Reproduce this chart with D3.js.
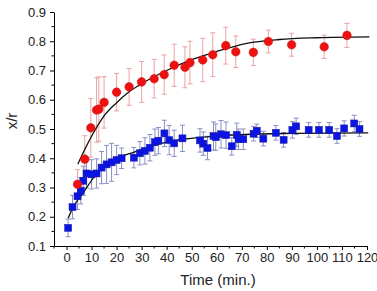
<!DOCTYPE html>
<html>
<head>
<meta charset="utf-8">
<script src="https://cdn.jsdelivr.net/npm/d3@7"></script>
<style>
  body { margin: 0; background: #fff; }
  svg { display: block; font-family: "Liberation Sans", Arial, sans-serif; }
</style>
</head>
<body>
<div id="chart"></div>
<script>
// red series (circles)
const redT = [4.4, 7.3, 9.7, 12, 12.9, 15, 20, 25, 30, 35, 39, 43, 47.3, 49.3, 54.4, 58.4, 63.6, 67.6, 74.6, 80.6, 89.9, 102.9, 112];
const redY = [0.311, 0.397, 0.504, 0.565, 0.568, 0.591, 0.626, 0.644, 0.661, 0.672, 0.686, 0.718, 0.711, 0.727, 0.736, 0.754, 0.785, 0.764, 0.762, 0.799, 0.788, 0.781, 0.820];
const redErr = [0.05, 0.08, 0.10, 0.11, 0.11, 0.088, 0.064, 0.063, 0.07, 0.066, 0.067, 0.072, 0.07, 0.073, 0.074, 0.075, 0.063, 0.054, 0.045, 0.039, 0.039, 0.04, 0.041];

// blue series (squares)
const blueT = [0.65, 2.4, 4.4, 5.7, 6.7, 8, 10, 12, 14, 16, 18, 20, 22, 26.9, 29.3, 31.3, 33.3, 35.3, 36.7, 39.1,
  41, 43, 46.3, 53.3, 54.6, 56.3, 58.7, 59.6, 61.7, 63.7, 66, 68, 68.7, 70.6, 74.7, 76, 78.6, 83.6, 86.7, 90.2,
  91.7, 96.7, 100.8, 104.9, 108, 110.9, 114.9, 117];
const blueY = [0.162, 0.233, 0.27, 0.289, 0.323, 0.348, 0.345, 0.348, 0.368, 0.379, 0.386, 0.394, 0.4, 0.402, 0.417, 0.425, 0.436, 0.455, 0.46, 0.485,
  0.462, 0.451, 0.468, 0.461, 0.45, 0.435, 0.476, 0.472, 0.482, 0.479, 0.441, 0.48, 0.465, 0.465, 0.484, 0.494, 0.467, 0.487, 0.463, 0.497,
  0.509, 0.497, 0.497, 0.497, 0.476, 0.502, 0.519, 0.5];
const blueErr = [0.03, 0.04, 0.045, 0.045, 0.05, 0.05, 0.05, 0.05, 0.055, 0.065, 0.065, 0.05, 0.035, 0.035, 0.04, 0.045, 0.045, 0.045, 0.045, 0.045,
  0.05, 0.045, 0.045, 0.04, 0.04, 0.04, 0.048, 0.045, 0.047, 0.045, 0.03, 0.04, 0.035, 0.035, 0.025, 0.023, 0.025, 0.025, 0.025, 0.028,
  0.028, 0.025, 0.025, 0.025, 0.025, 0.026, 0.028, 0.025];

// fitted curves
const redFitT = [4.5, 7, 10, 15, 20, 25, 30, 40, 50, 60, 72, 85, 100, 121];
const redFitY = [0.38, 0.425, 0.475, 0.545, 0.59, 0.627, 0.655, 0.70, 0.737, 0.765, 0.793, 0.806, 0.812, 0.815];
const blueFitT = [0.65, 3, 6, 8.7, 12.7, 18, 27.3, 35.3, 40, 46.6, 60, 73.3, 90, 120.5];
const blueFitY = [0.195, 0.238, 0.274, 0.308, 0.355, 0.39, 0.422, 0.445, 0.455, 0.465, 0.476, 0.482, 0.485, 0.487];

// ticks
const xTicks = [0, 10, 20, 30, 40, 50, 60, 70, 80, 90, 100, 110, 120];
const yTicks = [0.1, 0.2, 0.3, 0.4, 0.5, 0.6, 0.7, 0.8, 0.9];

const width = 377, height = 291;

const svg = d3.select("#chart").append("svg")
  .attr("width", width)
  .attr("height", height);

const x = d3.scaleLinear().domain([-5, 120]).range([54, 367]);
const y = d3.scaleLinear().domain([0.1, 0.9]).range([246, 12]);

// minor ticks
const xMinor = d3.range(-5, 121, 5).filter(v => v % 10 !== 0);
const yMinor = d3.range(0.15, 0.9, 0.1);

// axes
const xAxis = svg.append("g")
  .attr("transform", `translate(0,${y(0.1)})`)
  .call(d3.axisBottom(x).tickValues(xTicks).tickSize(4).tickPadding(3).tickSizeOuter(0));
xAxis.append("g").selectAll("line")
  .data(xMinor)
  .enter().append("line")
  .attr("x1", d => x(d)).attr("x2", d => x(d))
  .attr("y1", 0).attr("y2", 2.5)
  .attr("stroke", "#000");

const yAxis = svg.append("g")
  .attr("transform", `translate(${x(-5)},0)`)
  .call(d3.axisLeft(y).tickValues(yTicks).tickFormat(d3.format(".1f")).tickSize(4).tickPadding(4).tickSizeOuter(0));
yAxis.append("g").selectAll("line")
  .data(yMinor)
  .enter().append("line")
  .attr("y1", d => y(d)).attr("y2", d => y(d))
  .attr("x1", 0).attr("x2", -2.5)
  .attr("stroke", "#000");

svg.selectAll(".tick text")
  .style("font-size", "13px")
  .attr("fill", "#222");
svg.selectAll(".domain, .tick line").attr("stroke", "#000");

// axis titles
svg.append("text")
  .attr("x", 218)
  .attr("y", 285)
  .attr("text-anchor", "middle")
  .style("font-size", "15px")
  .attr("fill", "#222")
  .text("Time (min.)");

svg.append("text")
  .attr("transform", "translate(17,121) rotate(-90)")
  .attr("text-anchor", "middle")
  .style("font-size", "15px")
  .attr("fill", "#222")
  .text("x/r");

// error bars
function errorBars(ts, ys, es, color, cls) {
  const g = svg.append("g").attr("class", cls).attr("stroke", color).attr("stroke-width", 1);
  ts.forEach((t, i) => {
    const cx = x(t), top = y(ys[i] + es[i]), bot = y(ys[i] - es[i]);
    g.append("line").attr("x1", cx).attr("x2", cx).attr("y1", top).attr("y2", bot);
    g.append("line").attr("x1", cx - 2.5).attr("x2", cx + 2.5).attr("y1", top).attr("y2", top);
    g.append("line").attr("x1", cx - 2.5).attr("x2", cx + 2.5).attr("y1", bot).attr("y2", bot);
  });
}
errorBars(redT, redY, redErr, "#e8a2a2", "err-red");
errorBars(blueT, blueY, blueErr, "#8a8fc4", "err-blue");

// fit lines
const line = d3.line()
  .x(d => x(d[0]))
  .y(d => y(d[1]))
  .curve(d3.curveMonotoneX);

svg.append("path")
  .datum(blueFitT.map((t, i) => [t, blueFitY[i]]))
  .attr("fill", "none")
  .attr("stroke", "#111")
  .attr("stroke-width", 1.3)
  .attr("d", line);

svg.append("path")
  .datum(redFitT.map((t, i) => [t, redFitY[i]]))
  .attr("fill", "none")
  .attr("stroke", "#111")
  .attr("stroke-width", 1.3)
  .attr("d", line);

// blue squares
const sq = 7;
svg.append("g").selectAll("rect")
  .data(blueT.map((t, i) => [t, blueY[i]]))
  .enter().append("rect")
  .attr("x", d => x(d[0]) - sq / 2)
  .attr("y", d => y(d[1]) - sq / 2)
  .attr("width", sq)
  .attr("height", sq)
  .attr("fill", "#0a14e6")
  .attr("stroke", "#1a1a9a")
  .attr("stroke-width", 0.5);

// red circles
svg.append("g").selectAll("circle")
  .data(redT.map((t, i) => [t, redY[i]]))
  .enter().append("circle")
  .attr("cx", d => x(d[0]))
  .attr("cy", d => y(d[1]))
  .attr("r", 4.3)
  .attr("fill", "#f01010")
  .attr("stroke", "#c01818")
  .attr("stroke-width", 0.5);
</script>
</body>
</html>
